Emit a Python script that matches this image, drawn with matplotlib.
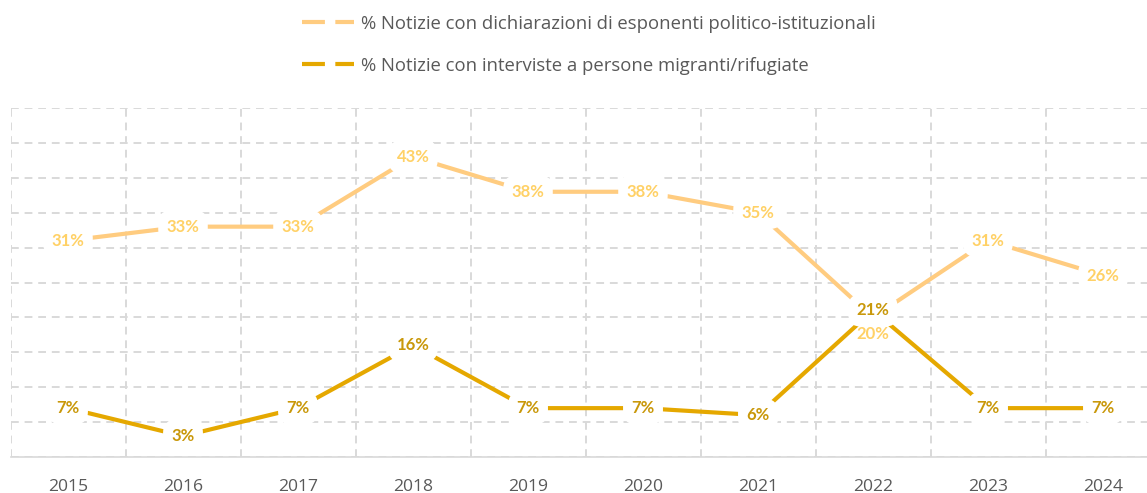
import numpy as np
import matplotlib.pyplot as plt
from matplotlib.lines import Line2D

years = ["2015", "2016", "2017", "2018", "2019", "2020", "2021", "2022", "2023", "2024"]
politici = [31, 33, 33, 43, 38, 38, 35, 20, 31, 26]
migranti = [7, 3, 7, 16, 7, 7, 6, 21, 7, 7]

LIGHT = "#FFCC80"
LIGHT_TXT = "#FFD166"
DARK = "#E5A800"
DARK_TXT = "#C9980A"
GRID = "#D9D9D9"

plt.rcParams['font.family'] = ['Open Sans', 'DejaVu Sans']
LABEL_FONT = ['Lato', 'DejaVu Sans']

fig = plt.figure(figsize=(11.47, 4.93), dpi=100)
W, H = 1147, 493
ax = fig.add_axes([10.5 / W, 36 / H, 1150 / W, 349 / H])

x = np.arange(len(years))
ax.plot(x, politici, color=LIGHT, lw=3, solid_capstyle='butt', zorder=3)
ax.plot(x, migranti, color=DARK, lw=3, solid_capstyle='butt', zorder=3)

box = dict(boxstyle="round,pad=0.5,rounding_size=0.8", fc="white", ec="none")
for i, (a, b) in enumerate(zip(politici, migranti)):
    dy_a = -17 if years[i] == "2022" else 0
    ax.annotate(f"{a}%", (i, a), xytext=(0, dy_a), textcoords="offset pixels",
                ha="center", va="center", fontsize=12, fontweight="bold",
                family=LABEL_FONT, color=LIGHT_TXT,
                bbox=box if dy_a == 0 else None, zorder=4)
    ax.annotate(f"{b}%", (i, b), ha="center", va="center", fontsize=12,
                fontweight="bold", family=LABEL_FONT, color=DARK_TXT,
                bbox=box, zorder=5)

ax.set_xlim(-0.5, len(years) - 0.5)
ax.set_ylim(0, 50)
ax.set_xticks(x)
ax.set_xticklabels(years, fontsize=12.6, color="#595959")
ax.set_xticks(np.arange(-0.5, len(years)), minor=True)
ax.set_yticks(np.arange(0, 51, 5))
ax.tick_params(axis="both", which="both", length=0, pad=16)
ax.tick_params(axis="y", labelleft=False)
ax.grid(True, axis="y", which="major", color=GRID, ls=(0, (4, 3)), lw=1.4)
ax.grid(True, axis="x", which="minor", color=GRID, ls=(0, (4, 3)), lw=1.4)
for s in ["top", "right", "left"]:
    ax.spines[s].set_visible(False)
ax.spines["bottom"].set_color(GRID)
ax.spines["bottom"].set_linewidth(1.2)
ax.set_axisbelow(True)

handles = [Line2D([], [], color=LIGHT, lw=3, ls=(0, (5.5, 2.5))),
           Line2D([], [], color=DARK, lw=3, ls=(0, (5.5, 2.5)))]
labels = ["% Notizie con dichiarazioni di esponenti politico-istituzionali",
          "% Notizie con interviste a persone migranti/rifugiate"]
leg = fig.legend(handles, labels, loc="upper center", bbox_to_anchor=(0.5135, 1.004),
                 frameon=False, fontsize=13.3, handlelength=2.8, handletextpad=0.38,
                 labelspacing=1.3)
for t in leg.get_texts():
    t.set_color("#595959")

fig.savefig("out.png", dpi=100)
